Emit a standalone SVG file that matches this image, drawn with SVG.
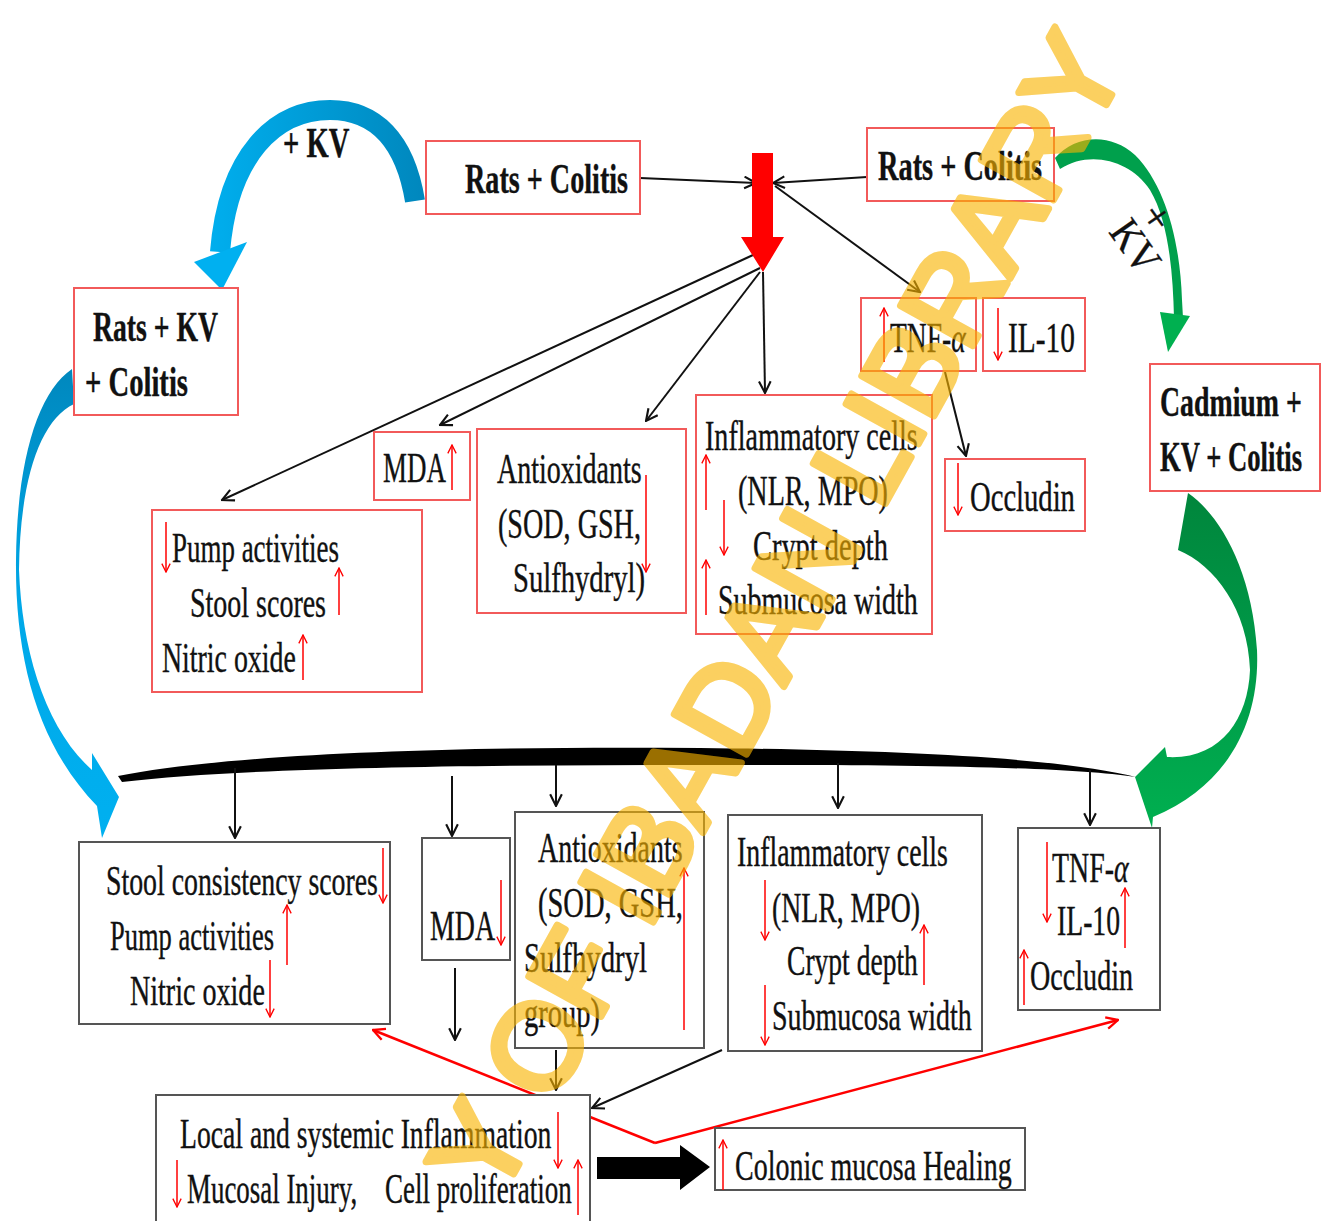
<svg xmlns="http://www.w3.org/2000/svg" width="1325" height="1221" viewBox="0 0 1325 1221">
<defs>
<style>
.t{font-family:"Liberation Serif","Times New Roman",serif;font-size:43px;fill:#111;stroke:#111;stroke-width:0.4}
.b{font-weight:bold}
.rb{fill:#fff;stroke:#f25a5a;stroke-width:2}
.gb{fill:#fff;stroke:#555;stroke-width:2}
.cn{stroke:#111;stroke-width:2;fill:none;marker-end:url(#ah)}
.ra{stroke:#f00;stroke-width:1.5;fill:none;marker-end:url(#rh)}
.rv{stroke:#f00;stroke-width:2.5;fill:none;marker-end:url(#rv)}
.wm{font-family:"Liberation Sans",Arial,sans-serif;font-size:120px;fill:#f9b400;stroke:#f9b400;stroke-width:7;stroke-linejoin:round;opacity:0.62}
</style>
<marker id="ah" viewBox="0 0 12 12" refX="11" refY="6" markerWidth="14" markerHeight="14" markerUnits="userSpaceOnUse" orient="auto"><path d="M1,1 L11,6 L1,11" fill="none" stroke="#111" stroke-width="1.8"/></marker>
<marker id="rh" viewBox="0 0 12 12" refX="11" refY="6" markerWidth="10" markerHeight="10" markerUnits="userSpaceOnUse" orient="auto"><path d="M1,1 L11,6 L1,11" fill="none" stroke="#f00" stroke-width="1.6"/></marker>
<marker id="rv" viewBox="0 0 12 12" refX="11" refY="6" markerWidth="14" markerHeight="14" markerUnits="userSpaceOnUse" orient="auto"><path d="M1,1 L11,6 L1,11" fill="none" stroke="#f00" stroke-width="2"/></marker>
<linearGradient id="blueTop" x1="420" y1="0" x2="200" y2="0" gradientUnits="userSpaceOnUse"><stop offset="0" stop-color="#0088be"/><stop offset="1" stop-color="#00b0f0"/></linearGradient>
<linearGradient id="blueLeft" x1="0" y1="370" x2="0" y2="840" gradientUnits="userSpaceOnUse"><stop offset="0" stop-color="#0088be"/><stop offset="0.5" stop-color="#00a8e8"/><stop offset="1" stop-color="#00b0f0"/></linearGradient>
<linearGradient id="greenRight" x1="0" y1="495" x2="0" y2="830" gradientUnits="userSpaceOnUse"><stop offset="0" stop-color="#00863c"/><stop offset="0.5" stop-color="#009a48"/><stop offset="1" stop-color="#00b050"/></linearGradient>
</defs>
<rect width="1325" height="1221" fill="#fff"/>

<!-- big curved arrows -->
<g id="arc-kv-left">
<path d="M415,201 C405,140 375,110 330,110 C275,110 228,155 220,252" fill="none" stroke="url(#blueTop)" stroke-width="20"/>
<polygon points="194,262 222,290 247,242" fill="#00b0f0"/>
<text class="t b" font-size="39" transform="translate(283 157) scale(0.665 1)">+ KV</text>
</g>
<g id="arc-blue-left">
<path d="M72,369 C38,392 17,460 16,560 C15,660 38,745 97,806 L102,838 L119,797 L92,753 L92,770 C45,728 22,650 19,570 C20,480 40,420 74,404 Z" fill="url(#blueLeft)"/>
</g>
<g id="arc-kv-right">
<path d="M1055,158 C1075,135 1110,132 1135,155 C1165,185 1180,240 1182,300 L1183,318 L1174,318 C1173,270 1168,220 1150,190 C1130,160 1090,150 1060,169 Z" fill="#00a04c"/>
<polygon points="1160,312 1168,352 1190,316" fill="#00b050"/>
<g transform="translate(1108,232) rotate(55)">
<text class="t" font-size="30" transform="scale(0.88 1)">KV</text>
<text class="t" x="4" y="-34" font-size="22">+</text>
</g>
</g>
<g id="arc-green-right">
<path d="M1188,493 C1220,515 1252,570 1257,650 C1260,720 1230,785 1153,817 L1152,828 L1135,777 L1165,747 L1167,757 C1220,760 1248,720 1250,670 C1248,610 1215,565 1178,550 Z" fill="url(#greenRight)"/>
</g>

<!-- brace -->
<g id="brace">
<path d="M118,776 C240,752 480,746 700,748 C900,750 1060,758 1136,777 C1060,766 900,765 700,765 C480,765 250,767 122,782 Z" fill="#000"/>
</g>

<!-- connectors -->
<g id="connectors">
<line class="cn" x1="640" y1="178" x2="756" y2="183"/>
<line class="cn" x1="867" y1="177" x2="773" y2="183"/>
<line class="cn" x1="775" y1="186" x2="920" y2="292"/>
<line class="cn" x1="753" y1="255" x2="222" y2="500"/>
<line class="cn" x1="760" y1="268" x2="440" y2="425"/>
<line class="cn" x1="760" y1="272" x2="646" y2="421"/>
<line class="cn" x1="763" y1="272" x2="765" y2="393"/>
<line class="cn" x1="945" y1="372" x2="966" y2="456"/>
<line class="cn" x1="235" y1="768" x2="235" y2="838"/>
<line class="cn" x1="452" y1="776" x2="452" y2="836"/>
<line class="cn" x1="556" y1="765" x2="556" y2="806"/>
<line class="cn" x1="838" y1="763" x2="838" y2="808"/>
<line class="cn" x1="1090" y1="770" x2="1090" y2="825"/>
<line class="cn" x1="455" y1="968" x2="455" y2="1040"/>
<line class="cn" x1="556" y1="1050" x2="556" y2="1090"/>
<line class="cn" x1="722" y1="1050" x2="592" y2="1108"/>
<polyline class="rv" points="655,1143 373,1030"/>
<polyline class="rv" points="655,1143 1118,1020"/>
<polygon points="597,1157 680,1157 680,1145 710,1167 680,1190 680,1179 597,1179" fill="#000"/>
</g>

<!-- red down arrow -->
<g id="red-arrow">
<polygon points="752,153 773,153 773,237 784,237 763,272 741,237 752,237" fill="#f00"/>
</g>

<!-- top nodes -->
<g id="n-rats-colitis-left">
<rect class="rb" x="426" y="141" width="214" height="73"/>
<text class="t b" transform="translate(465 193) scale(0.655 1)">Rats + Colitis</text>
</g>
<g id="n-rats-colitis-right">
<rect class="rb" x="867" y="128" width="187" height="73"/>
<text class="t b" transform="translate(878 180) scale(0.659 1)">Rats + Colitis</text>
</g>
<g id="n-rats-kv-colitis">
<rect class="rb" x="74" y="288" width="164" height="127"/>
<text class="t b" transform="translate(93 341) scale(0.644 1)">Rats + KV</text>
<text class="t b" transform="translate(85 396) scale(0.666 1)">+ Colitis</text>
</g>
<g id="n-cadmium">
<rect class="rb" x="1150" y="364" width="170" height="127"/>
<text class="t b" transform="translate(1160 416) scale(0.647 1)">Cadmium +</text>
<text class="t b" transform="translate(1160 471) scale(0.620 1)">KV + Colitis</text>
</g>
<g id="n-tnf-top">
<rect class="rb" x="861" y="298" width="115" height="73"/>
<line class="ra" x1="884" y1="362" x2="884" y2="308"/>
<text class="t" transform="translate(890 352) scale(0.641 1)">TNF-<tspan font-style="italic">α</tspan></text>
</g>
<g id="n-il10-top">
<rect class="rb" x="983" y="298" width="102" height="73"/>
<line class="ra" x1="998" y1="308" x2="998" y2="360"/>
<text class="t" transform="translate(1008 352) scale(0.684 1)">IL-10</text>
</g>
<g id="n-occludin-top">
<rect class="rb" x="945" y="459" width="140" height="72"/>
<line class="ra" x1="958" y1="463" x2="958" y2="515"/>
<text class="t" transform="translate(970 511) scale(0.666 1)">Occludin</text>
</g>
<g id="n-mda-top">
<rect class="rb" x="374" y="432" width="96" height="68"/>
<text class="t" font-size="39" transform="translate(383 482) scale(0.627 1)">MDA</text>
<line class="ra" x1="452" y1="490" x2="452" y2="445"/>
</g>
<g id="n-antiox-top">
<rect class="rb" x="477" y="429" width="209" height="184"/>
<text class="t" transform="translate(497 483) scale(0.651 1)">Antioxidants</text>
<text class="t" transform="translate(498 538) scale(0.654 1)">(SOD, GSH,</text>
<text class="t" transform="translate(513 592) scale(0.666 1)">Sulfhydryl)</text>
<line class="ra" x1="646" y1="475" x2="646" y2="572"/>
</g>
<g id="n-inflam-top">
<rect class="rb" x="696" y="395" width="236" height="239"/>
<text class="t" transform="translate(705 450) scale(0.653 1)">Inflammatory cells</text>
<text class="t" transform="translate(738 505) scale(0.654 1)">(NLR, MPO)</text>
<text class="t" transform="translate(753 560) scale(0.661 1)">Crypt depth</text>
<text class="t" transform="translate(718 614) scale(0.651 1)">Submucosa width</text>
<line class="ra" x1="706" y1="510" x2="706" y2="455"/>
<line class="ra" x1="724" y1="500" x2="724" y2="555"/>
<line class="ra" x1="706" y1="615" x2="706" y2="560"/>
</g>
<g id="n-pump-top">
<rect class="rb" x="152" y="510" width="270" height="182"/>
<line class="ra" x1="166" y1="522" x2="166" y2="572"/>
<text class="t" transform="translate(172 562) scale(0.627 1)">Pump activities</text>
<text class="t" transform="translate(190 617) scale(0.651 1)">Stool scores</text>
<line class="ra" x1="339" y1="615" x2="339" y2="568"/>
<text class="t" transform="translate(162 672) scale(0.648 1)">Nitric oxide</text>
<line class="ra" x1="303" y1="680" x2="303" y2="635"/>
</g>

<!-- bottom nodes -->
<g id="n-stool-bottom">
<rect class="gb" x="79" y="842" width="311" height="182"/>
<text class="t" transform="translate(106 895) scale(0.647 1)">Stool consistency scores</text>
<line class="ra" x1="383" y1="848" x2="383" y2="903"/>
<text class="t" transform="translate(110 950) scale(0.616 1)">Pump activities</text>
<line class="ra" x1="287" y1="965" x2="287" y2="905"/>
<text class="t" transform="translate(130 1005) scale(0.653 1)">Nitric oxide</text>
<line class="ra" x1="270" y1="960" x2="270" y2="1017"/>
</g>
<g id="n-mda-bottom">
<rect class="gb" x="422" y="838" width="88" height="122"/>
<text class="t" transform="translate(430 940) scale(0.648 1)">MDA</text>
<line class="ra" x1="501" y1="880" x2="501" y2="945"/>
</g>
<g id="n-antiox-bottom">
<rect class="gb" x="515" y="812" width="189" height="236"/>
<text class="t" transform="translate(538 862) scale(0.651 1)">Antioxidants</text>
<text class="t" transform="translate(538 917) scale(0.663 1)">(SOD, GSH,</text>
<text class="t" transform="translate(524 972) scale(0.669 1)">Sulfhydryl</text>
<text class="t" transform="translate(524 1027) scale(0.663 1)">group)</text>
<line class="ra" x1="684" y1="1030" x2="684" y2="868"/>
</g>
<g id="n-inflam-bottom">
<rect class="gb" x="728" y="815" width="254" height="236"/>
<text class="t" transform="translate(737 866) scale(0.647 1)">Inflammatory cells</text>
<line class="ra" x1="765" y1="880" x2="765" y2="940"/>
<text class="t" transform="translate(772 922) scale(0.645 1)">(NLR, MPO)</text>
<text class="t" transform="translate(787 975) scale(0.641 1)">Crypt depth</text>
<line class="ra" x1="924" y1="985" x2="924" y2="925"/>
<line class="ra" x1="765" y1="985" x2="765" y2="1045"/>
<text class="t" transform="translate(772 1030) scale(0.651 1)">Submucosa width</text>
</g>
<g id="n-tnf-bottom">
<rect class="gb" x="1018" y="828" width="142" height="182"/>
<line class="ra" x1="1047" y1="842" x2="1047" y2="922"/>
<text class="t" transform="translate(1052 882) scale(0.649 1)">TNF-<tspan font-style="italic">α</tspan></text>
<text class="t" transform="translate(1057 935) scale(0.644 1)">IL-10</text>
<line class="ra" x1="1125" y1="948" x2="1125" y2="888"/>
<line class="ra" x1="1024" y1="1005" x2="1024" y2="950"/>
<text class="t" transform="translate(1030 990) scale(0.654 1)">Occludin</text>
</g>
<g id="n-local">
<rect class="gb" x="156" y="1095" width="434" height="130"/>
<text class="t" transform="translate(180 1148) scale(0.644 1)">Local and systemic Inflammation</text>
<line class="ra" x1="558" y1="1112" x2="558" y2="1168"/>
<line class="ra" x1="177" y1="1160" x2="177" y2="1207"/>
<text class="t" transform="translate(187 1203) scale(0.626 1)">Mucosal Injury,</text>
<text class="t" transform="translate(385 1203) scale(0.628 1)">Cell proliferation</text>
<line class="ra" x1="578" y1="1215" x2="578" y2="1160"/>
</g>
<g id="n-colonic">
<rect class="gb" x="715" y="1128" width="310" height="62"/>
<line class="ra" x1="723" y1="1190" x2="723" y2="1140"/>
<text class="t" transform="translate(735 1180) scale(0.651 1)">Colonic mucosa Healing</text>
</g>

<!-- watermark -->
<g id="watermark">
<text class="wm" transform="translate(497,1204) rotate(-61)">Y OF IBADAN LIBRARY</text>
</g>
</svg>
